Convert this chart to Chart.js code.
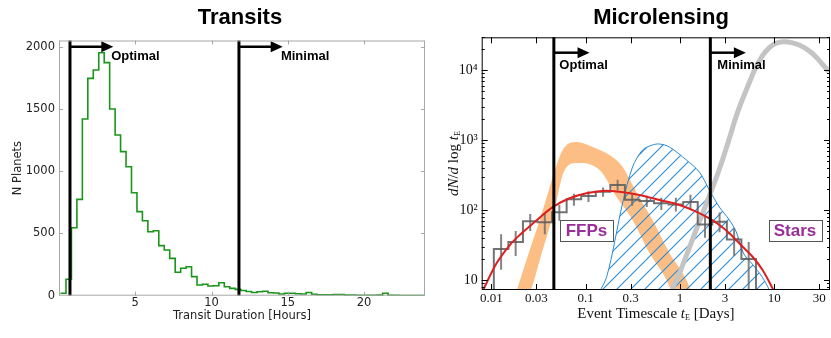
<!DOCTYPE html>
<html>
<head>
<meta charset="utf-8">
<script src="https://cdn.jsdelivr.net/npm/chart.js@4.4.1/dist/chart.umd.min.js"></script>
<style>
html, body { margin: 0; padding: 0; background: #fff; }
#wrap { position: relative; width: 831px; height: 338px; overflow: hidden; }
canvas { position: absolute; top: 0; }
</style>
</head>
<body>
<div id="wrap">
  <canvas id="transits" width="440" height="338" style="left:0px"></canvas>
  <canvas id="micro" width="401" height="338" style="left:430px"></canvas>
</div>
<script>
// ---- Transits panel ----
const transitBinStart = 0.10;
const transitBinWidth = 0.358;
const transitCounts = [20, 132, 546, 774, 1419, 1746, 1813, 1952, 1872, 1500, 1291, 1157, 1036, 827, 675, 602, 514, 522,
  402, 367, 300, 188, 220, 233, 153, 86, 92, 78, 80, 104, 72, 59, 51, 42, 34, 26, 32, 36, 24, 22, 14, 20, 20, 16, 14,
  26, 12, 8, 8, 8, 10, 10, 5, 6, 4, 4, 4, 4, 5, 20, 4, 3, 2, 2, 2, 2, 2];
const transitTicksX = [0, 5, 10, 15, 20];
const transitTicksY = [0, 500, 1000, 1500, 2000];
const transitLines = [0.72, 11.8];          // optimal, minimal
const transitArrowTips = [3.56, 14.67];
const transitArrowY = 2000;
const transitLabelX = [3.42, 14.55];
const transitLabelY = 1920;

// ---- Microlensing panel ----
const microTicksX = [0.01, 0.03, 0.1, 0.3, 1, 3, 10, 30];
const microTicksY = [10, 100, 1000, 10000];
const microLines = [0.046, 2.1];
const microArrowTips = [0.110, 5.0];
const microArrowY = 17660;
const microLabelX = [0.0526, 2.49];
const microLabelY = 11800;

const histEdges = [0.01062, 0.01516, 0.02163, 0.03087, 0.04405, 0.06286, 0.0897, 0.128, 0.1827, 0.2607,
  0.372, 0.5309, 0.7576, 1.081, 1.543, 2.202, 3.142, 4.483, 6.398];
const histVals = [27.7, 35, 69, 67, 93, 142, 158, 182, 228, 140, 135, 125, 120, 130, 62, 68, 38, 20];
const histLo   = [14, 22, 50, 45, 70, 115, 130, 155, 190, 115, 110, 100, 95, 100, 40, 48, 22, 7];
const histHi   = [45, 50, 88, 90, 118, 170, 185, 210, 270, 170, 160, 150, 150, 165, 85, 92, 55, 35];

const fitX = [0.0079, 0.00819, 0.01135, 0.0157, 0.02, 0.0277, 0.0451, 0.0677, 0.1017, 0.1655, 0.229, 0.372,
  0.607, 0.989, 1.48, 2.05, 2.62, 3.34, 4.62, 5.89, 7.52, 9.6, 10.5];
const fitY = [6.5, 7.2, 17.3, 31.6, 44, 64.6, 111, 147, 173, 189, 182, 164, 139, 118, 95, 76, 61, 46.4, 29.9,
  21.5, 13.9, 7.6, 6];

const starsX = [0.75, 0.85, 1.0, 1.5, 2.0, 2.6, 3.3, 4.0, 5.0, 7.0, 9.6, 12.8, 18.4, 25, 38];
const starsY = [5, 8, 13, 54, 146, 373, 1000, 2300, 5000, 13800, 22700, 25400, 22700, 17500, 9500];

const starModelX = [0.1245, 0.1667, 0.2466, 0.314, 0.401, 0.512, 0.607, 0.774, 1.17, 1.606, 2.05, 2.62, 3.34,
  3.96, 4.7, 5.85, 7.46, 8.85, 9.5];
const starModelY = [5.2, 11, 126, 411, 720, 849, 877, 794, 518, 349, 193, 110, 72, 48.5, 24.3, 16.9, 11, 7.2, 5.2];

const ffpUpX = [0.0173, 0.0255, 0.0326, 0.0387, 0.0448, 0.0571, 0.0804, 0.1186, 0.193, 0.2466, 0.314, 0.372,
  0.512, 0.774, 1.17, 1.42];
const ffpUpY = [5.2, 26.8, 72, 153, 296, 720, 936, 794, 571, 411, 230, 150, 72, 24.3, 10, 5.2];
const ffpLowX = [0.0173, 0.022, 0.0262, 0.0333, 0.0426, 0.0493, 0.0585, 0.0804, 0.1406, 0.213, 0.314, 0.475,
  0.72, 0.875, 1.42];
const ffpLowY = [1, 5.2, 7.2, 21.3, 65, 139, 349, 469, 373, 153, 72, 24.3, 10, 5.2, 1];

const boxLabels = ['FFPs', 'Stars'];
const boxX = [0.102, 16.6];
const boxY = 51;

const pts = (xs, ys) => xs.map((x, i) => ({x: x, y: ys[i]}));
const fix = (w, h) => s => {
  if (w != null) s.width = w;
  if (h != null) s.height = h;
  s.paddingLeft = s.paddingRight = s.paddingTop = s.paddingBottom = 0;
};
const setTicks = vals => s => { s.ticks = vals.map(v => ({value: v})); };

const line = (ctx, x1, y1, x2, y2) => { ctx.beginPath(); ctx.moveTo(x1, y1); ctx.lineTo(x2, y2); ctx.stroke(); };

const panel = {
  id: 'panel',
  afterDatasetsDraw(chart, args, o) {
    const {ctx, chartArea: a} = chart;
    const xs = chart.scales.x, ys = chart.scales.y;
    ctx.save();
    // marker lines + arrows
    ctx.strokeStyle = '#000';
    ctx.fillStyle = '#000';
    const ay = ys.getPixelForValue(o.arrowY);
    o.vlines.forEach((v, i) => {
      const p = xs.getPixelForValue(v);
      ctx.lineWidth = 3;
      line(ctx, p, a.top, p, a.bottom);
      const tip = xs.getPixelForValue(o.arrowTips[i]);
      ctx.lineWidth = 2.5;
      line(ctx, p, ay, tip - 10, ay);
      ctx.beginPath();
      ctx.moveTo(tip, ay);
      ctx.lineTo(tip - 12, ay - 5.5);
      ctx.lineTo(tip - 12, ay + 5.5);
      ctx.closePath();
      ctx.fill();
    });
    ctx.font = 'bold 13px "Liberation Sans", Arial, sans-serif';
    ctx.textBaseline = 'middle';
    ctx.textAlign = 'left';
    o.labels.forEach((t, i) => ctx.fillText(t, xs.getPixelForValue(o.labelX[i]), ys.getPixelForValue(o.labelY)));

    // boxed labels
    (o.boxes || []).forEach((t, i) => {
      const cx = xs.getPixelForValue(o.boxX[i]), cy = ys.getPixelForValue(o.boxY);
      ctx.fillStyle = '#fff';
      ctx.fillRect(cx - 26.5, cy - 10.5, 53, 21);
      ctx.strokeStyle = '#555';
      ctx.lineWidth = 1;
      ctx.strokeRect(Math.round(cx - 26.5) + 0.5, Math.round(cy - 10.5) + 0.5, 53, 21);
      ctx.fillStyle = '#992e99';
      ctx.font = 'bold 17px "Liberation Sans", Arial, sans-serif';
      ctx.textAlign = 'center';
      ctx.fillText(t, cx, cy + 1);
    });

    // frame and inward ticks
    ctx.strokeStyle = o.spine;
    ctx.lineWidth = 1;
    ctx.strokeRect(a.left + 0.5, a.top + 0.5, a.right - a.left - 1, a.bottom - a.top - 1);
    const tick = (vx, vy, len) => {
      vx.forEach(v => {
        const p = Math.round(xs.getPixelForValue(v)) + 0.5;
        if (p < a.left || p > a.right) return;
        line(ctx, p, a.bottom, p, a.bottom - len);
        line(ctx, p, a.top, p, a.top + len);
      });
      vy.forEach(v => {
        const p = Math.round(ys.getPixelForValue(v)) + 0.5;
        if (p < a.top || p > a.bottom) return;
        line(ctx, a.left, p, a.left + len, p);
        line(ctx, a.right, p, a.right - len, p);
      });
    };
    tick(o.ticksX, o.ticksY, o.tickLen);
    if (o.minorY) tick([], o.minorY, o.tickLen / 2);

    // panel title
    ctx.fillStyle = '#000';
    ctx.font = 'bold 22px "Liberation Sans", Arial, sans-serif';
    ctx.textAlign = 'center';
    ctx.fillText(o.title, o.titleX, 18);

    // math-style axis titles (with subscript)
    if (o.mathTitles) {
      const serif = '"Liberation Serif", "DejaVu Serif", serif';
      const runs = (parts) => parts.map(p => {
        ctx.font = p[1] + serif;
        return {t: p[0], f: p[1] + serif, w: ctx.measureText(p[0]).width, dy: p[2] || 0};
      });
      const drawRuns = (rs) => {
        const total = rs.reduce((s, r) => s + r.w, 0);
        let cx = -total / 2;
        ctx.textAlign = 'left';
        rs.forEach(r => { ctx.font = r.f; ctx.fillText(r.t, cx, r.dy); cx += r.w; });
      };
      ctx.fillStyle = '#111';
      ctx.textBaseline = 'middle';
      const xt = runs([['Event Timescale ', '15px '], ['t', 'italic 15px '], ['E', '8px ', 4], [' [Days]', '15px ']]);
      ctx.save();
      ctx.translate((a.left + a.right) / 2, 314);
      drawRuns(xt);
      ctx.restore();
      const yt = runs([['dN', 'italic 15px '], ['/', '15px '], ['d', 'italic 15px '], [' log ', '15px '],
        ['t', 'italic 15px '], ['E', '8px ', 4]]);
      ctx.save();
      ctx.translate(o.yTitleX, (a.top + a.bottom) / 2);
      ctx.rotate(-Math.PI / 2);
      drawRuns(yt);
      ctx.restore();
    }
    ctx.restore();
  }
};

// ---------- left chart ----------
const transitPts = transitCounts.map((c, i) => ({x: transitBinStart + i * transitBinWidth, y: c}));
transitPts.push({x: transitBinStart + transitCounts.length * transitBinWidth, y: transitCounts[transitCounts.length - 1]});

const sansFont = {family: '"DejaVu Sans", sans-serif', size: 11.5};

new Chart(document.getElementById('transits'), {
  type: 'line',
  data: {
    datasets: [{
      data: transitPts,
      stepped: true,
      borderColor: '#1a961a',
      borderWidth: 1.6,
      pointRadius: 0,
      fill: false
    }]
  },
  options: {
    responsive: false,
    animation: false,
    devicePixelRatio: 1,
    layout: {padding: {top: 40.5, left: 0, right: 15, bottom: 0}},
    plugins: {
      legend: {display: false},
      tooltip: {enabled: false},
      panel: {
        title: 'Transits', titleX: 240,
        vlines: transitLines, arrowTips: transitArrowTips, arrowY: transitArrowY,
        labels: ['Optimal', 'Minimal'], labelX: transitLabelX, labelY: transitLabelY,
        spine: '#a8a8a8', tickLen: 4, ticksX: transitTicksX, ticksY: transitTicksY
      }
    },
    scales: {
      x: {
        type: 'linear', min: 0, max: 24,
        afterBuildTicks: setTicks(transitTicksX),
        afterFit: fix(null, 42.3),
        grid: {display: false, drawTicks: false},
        border: {display: false},
        ticks: {padding: 0, color: '#222', font: sansFont, maxRotation: 0,
          callback: v => (v === 0 ? '' : String(v))},
        title: {display: true, text: 'Transit Duration [Hours]', color: '#222', font: sansFont,
          padding: {top: 0, bottom: 15}}
      },
      y: {
        type: 'linear', min: 0, max: 2050,
        afterBuildTicks: setTicks(transitTicksY),
        afterFit: fix(59, null),
        grid: {display: false, drawTicks: false},
        border: {display: false},
        ticks: {padding: 4, color: '#222', font: sansFont, callback: v => String(v)},
        title: {display: true, text: 'N Planets', color: '#222', font: sansFont,
          padding: {top: 11, bottom: 0}}
      }
    }
  },
  plugins: [panel]
});

// ---------- right chart ----------
const microCtx = document.getElementById('micro').getContext('2d');
const tile = document.createElement('canvas');
tile.width = 14; tile.height = 14;
const tg = tile.getContext('2d');
tg.strokeStyle = 'rgb(40,140,215)';
tg.lineWidth = 1.1;
tg.beginPath();
tg.moveTo(-1, 15); tg.lineTo(15, -1);
tg.moveTo(-2, 2); tg.lineTo(2, -2);
tg.moveTo(12, 16); tg.lineTo(16, 12);
tg.stroke();
const hatch = microCtx.createPattern(tile, 'repeat');

const histPts = histVals.map((v, i) => ({x: histEdges[i], y: v}));
histPts.push({x: histEdges[histEdges.length - 1], y: histVals[histVals.length - 1]});
histPts.push({x: histEdges[histEdges.length - 1], y: 1});
histPts.unshift({x: histEdges[0], y: 1});
const errPts = [];
histVals.forEach((v, i) => {
  const c = Math.sqrt(histEdges[i] * histEdges[i + 1]);
  errPts.push({x: c, y: histLo[i]}, {x: c, y: histHi[i]}, {x: c, y: null});
});

const minorY = [];
[1, 10, 100, 1000, 10000].forEach(d => { for (let k = 2; k <= 9; k++) minorY.push(d * k); });

const serifFont = {family: '"Liberation Serif", "DejaVu Serif", serif', size: 13};
const supers = {10: '10', 100: '10\u00b2', 1000: '10\u00b3', 10000: '10\u2074'};

new Chart(microCtx, {
  type: 'line',
  data: {
    datasets: [
      {data: pts(fitX, fitY), borderColor: '#dc1f1f', borderWidth: 2, pointRadius: 0, cubicInterpolationMode: 'monotone', fill: false},
      {data: histPts, stepped: true, borderColor: 'rgba(90,90,90,0.85)', borderWidth: 2, pointRadius: 0, fill: false},
      {data: errPts, borderColor: 'rgba(110,110,110,0.85)', borderWidth: 2, pointRadius: 0, spanGaps: false, fill: false},
      {data: pts(starsX, starsY), borderColor: '#c4c4c4', borderWidth: 5, pointRadius: 0, tension: 0.4, fill: false},
      {data: pts(starModelX, starModelY), borderColor: 'rgb(40,140,215)', borderWidth: 1, pointRadius: 0, tension: 0.3,
        backgroundColor: hatch, fill: 'start'},
      {data: pts(ffpUpX, ffpUpY), borderWidth: 0, borderColor: 'rgba(0,0,0,0)', pointRadius: 0, cubicInterpolationMode: 'monotone',
        backgroundColor: '#fdbe86', fill: '+1'},
      {data: pts(ffpLowX, ffpLowY), borderWidth: 0, borderColor: 'rgba(0,0,0,0)', pointRadius: 0, cubicInterpolationMode: 'monotone', fill: false}
    ]
  },
  options: {
    responsive: false,
    animation: false,
    devicePixelRatio: 1,
    layout: {padding: {top: 37.3, left: 0, right: 1, bottom: 0}},
    plugins: {
      legend: {display: false},
      tooltip: {enabled: false},
      panel: {
        title: 'Microlensing', titleX: 231,
        vlines: microLines, arrowTips: microArrowTips, arrowY: microArrowY,
        labels: ['Optimal', 'Minimal'], labelX: microLabelX, labelY: microLabelY,
        boxes: boxLabels, boxX: boxX, boxY: boxY,
        spine: '#000', tickLen: 6, ticksX: microTicksX, ticksY: microTicksY, minorY: minorY,
        mathTitles: true, yTitleX: 24
      }
    },
    scales: {
      x: {
        type: 'logarithmic', min: 0.0079, max: 39,
        afterBuildTicks: setTicks(microTicksX),
        afterFit: fix(null, 48),
        grid: {display: false, drawTicks: false},
        border: {display: false},
        ticks: {padding: 0.5, color: '#111', font: serifFont, maxRotation: 0, autoSkip: false,
          callback: v => String(v)}
      },
      y: {
        type: 'logarithmic', min: 7.2, max: 29300,
        afterBuildTicks: setTicks(microTicksY),
        afterFit: fix(51.7, null),
        grid: {display: false, drawTicks: false},
        border: {display: false},
        ticks: {padding: 4, color: '#111', font: {family: serifFont.family, size: 14}, autoSkip: false,
          callback: v => supers[v] || ''}
      }
    }
  },
  plugins: [panel]
});
</script>
</body>
</html>
